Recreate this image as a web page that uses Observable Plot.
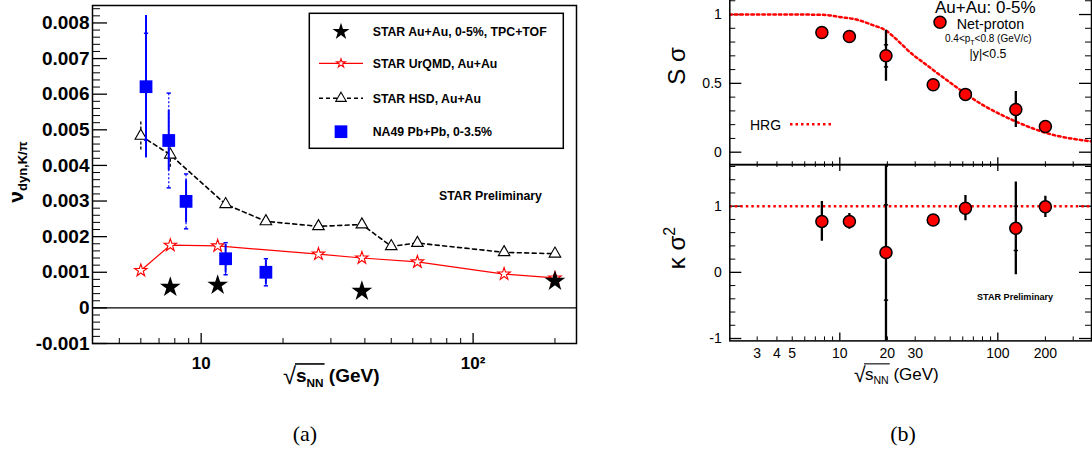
<!DOCTYPE html>
<html><head><meta charset="utf-8">
<script src="https://cdn.jsdelivr.net/npm/d3@7"></script>
<script src="https://cdn.jsdelivr.net/npm/@observablehq/plot@0.6"></script>
<style>
html,body{margin:0;padding:0;background:#fff}
body{width:1092px;height:452px;overflow:hidden;position:relative}
.abs{position:absolute}
svg{overflow:visible}
</style></head><body>
<div id="pa" class="abs" style="left:0px;top:0px"></div>
<div id="pb1" class="abs" style="left:640px;top:-27px"></div>
<div id="pb2" class="abs" style="left:640px;top:164.3px"></div>
<svg id="ov" class="abs" style="left:0;top:0" width="1092" height="452"></svg>
<script>
// ---------------- Panel (a) data ----------------
const starAuAuEnergy = [7.7, 11.5, 39, 200];
const starAuAuNu     = [0.00058, 0.00064, 0.00047, 0.00075];
const urqmdEnergy = [6.0, 7.7, 11.5, 27, 39, 62.4, 130, 200];
const urqmdNu     = [0.00105, 0.00176, 0.00174, 0.00151, 0.00140, 0.00129, 0.00095, 0.00084];
const hsdEnergy = [6.0, 7.7, 12.3, 17.3, 27, 39, 50, 62.4, 130, 200];
const hsdNu     = [0.00483, 0.00430, 0.00291, 0.00243, 0.00229, 0.00234, 0.00173, 0.00182, 0.00156, 0.00152];
const hsdErr    = [0.0004, 0.00035, 0, 0, 0, 0, 0, 0, 0, 0];
const na49Energy = [6.27, 7.6, 8.8, 12.3, 17.3];
const na49Nu     = [0.00621, 0.00470, 0.00299, 0.00138, 0.00100];
const na49Stat   = [0.0020, 0.00085, 0.00060, 0.00040, 0.00034];
const na49Sys    = [0.0015, 0.00133, 0.00077, 0.00045, 0.00038];
const aYTicks = [-0.001, 0, 0.001, 0.002, 0.003, 0.004, 0.005, 0.006, 0.007, 0.008];
const aXMajor = [10, 100];
const aXMinor = [5, 6, 7, 8, 9, 20, 30, 40, 50, 60, 70, 80, 90, 200];
const aLegendLabels = ["STAR Au+Au, 0-5%, TPC+TOF", "STAR UrQMD, Au+Au", "STAR HSD, Au+Au", "NA49 Pb+Pb, 0-3.5%"];

// ---------------- Panel (b) data ----------------
const bEnergy   = [7.7, 11.5, 19.6, 39, 62.4, 130, 200];
const sSigma    = [0.87, 0.84, 0.70, 0.49, 0.42, 0.31, 0.187];
const sSigmaErr = [0.02, 0.02, 0.185, 0.02, 0.02, 0.13, 0.02];
const sSigmaSys = [0, 0, 0.08, 0, 0, 0, 0];
const kSigma2    = [0.77, 0.77, 0.30, 0.79, 0.97, 0.665, 0.99];
const kSigma2Err = [0.30, 0.12, 2.0, 0.06, 0.19, 0.70, 0.16];
const kSigma2Sys = [0, 0, 0.72, 0, 0, 0.335, 0];
const hrgEnergy = [2, 5, 7, 8.3, 10, 12.9, 16, 19.8, 22, 29.4, 32.4, 48, 78, 126, 205, 393];
const hrgSSigma = [1.0, 1.0, 0.999, 0.996, 0.982, 0.962, 0.925, 0.88, 0.836, 0.703, 0.667, 0.52, 0.352, 0.23, 0.138, 0.078];
const hrgKappa = [1];
const bXMajor = [10, 100];
const bXMinor = [3, 4, 5, 6, 7, 8, 9, 20, 30, 40, 50, 60, 70, 80, 90, 200, 300];
const bXLabels = [3, 4, 5, 6, 7, 10, 20, 30, 100, 200];
const bTopYTicks = [0, 0.5, 1];
const bBotYTicks = [-1, 0, 1];

const FONT = "'Liberation Sans', Arial, Helvetica, sans-serif";
const RED = "#ff0000", BLUE = "#0000ff";
const capSymbol = {draw(ctx, size) { const w = Math.sqrt(size); ctx.moveTo(-w, 0); ctx.lineTo(w, 0); }};

// ---------------- Panel (a) ----------------
const A = {W: 600, H: 400, mL: 92, mR: 24, mT: 5, mB: 57};
const aFW = A.W - A.mL - A.mR, aFH = A.H - A.mT - A.mB;
const aYMinor = d3.range(-10, 85, 2).map(i => i / 10000).filter(v => !aYTicks.some(t => Math.abs(t - v) < 1e-9));
const star = starAuAuEnergy.map((e, i) => ({e, v: starAuAuNu[i]}));
const urqmd = urqmdEnergy.map((e, i) => ({e, v: urqmdNu[i]}));
const hsd = hsdEnergy.map((e, i) => ({e, v: hsdNu[i], err: hsdErr[i]}));
const na49 = na49Energy.map((e, i) => ({e, v: na49Nu[i], stat: na49Stat[i], sys: na49Sys[i]}));

const plotA = Plot.plot({
  width: A.W, height: A.H, marginLeft: A.mL, marginRight: A.mR, marginTop: A.mT, marginBottom: A.mB,
  style: {fontFamily: FONT, background: "transparent", color: "black", overflow: "visible"},
  x: {type: "log", domain: [3.985, 240]},
  y: {domain: [-0.001, 0.00849]},
  marks: [
    Plot.ruleY([0], {stroke: "black", strokeWidth: 1.2}),
    Plot.tickY(aYTicks, {y: d => d, insetRight: aFW - 15, strokeWidth: 1.3}),
    Plot.tickY(aYMinor, {y: d => d, insetRight: aFW - 8, strokeWidth: 1}),
    Plot.tickX(aXMajor, {x: d => d, insetTop: aFH - 10, strokeWidth: 1.3}),
    Plot.tickX(aXMinor, {x: d => d, insetTop: aFH - 5, strokeWidth: 1}),
    Plot.axisY({ticks: aYTicks, tickSize: 0, tickPadding: 3, label: null,
      tickFormat: d => d === 0 ? "0" : d.toFixed(3), fontSize: 19, fontWeight: "bold"}),
    Plot.axisX({ticks: aXMajor, tickSize: 0, tickPadding: 13, label: null,
      tickFormat: d => d === 100 ? "10²" : "10", fontSize: 17, fontWeight: "bold"}),
    // HSD
    Plot.ruleX(hsd.filter(d => d.err > 0), {x: "e", y1: d => d.v - d.err, y2: d => d.v + d.err, stroke: "black", strokeWidth: 1.3, strokeDasharray: "3,2"}),
    Plot.line(hsd, {x: "e", y: "v", stroke: "black", strokeWidth: 1.6, strokeDasharray: "4,3.5"}),
    Plot.dot(hsd, {x: "e", y: "v", symbol: "triangle", r: 4.3, fill: "white", stroke: "black", strokeWidth: 1.1}),
    // UrQMD
    Plot.line(urqmd, {x: "e", y: "v", stroke: RED, strokeWidth: 1.2}),
    Plot.dot(urqmd, {x: "e", y: "v", symbol: "star", r: 3.9, fill: "white", stroke: RED, strokeWidth: 1.1}),
    // NA49
    Plot.ruleX(na49, {x: "e", y1: d => d.v - d.sys, y2: d => d.v + d.sys, stroke: BLUE, strokeWidth: 1.2, strokeDasharray: "2,2"}),
    Plot.dot(na49, {x: "e", y: d => d.v + d.sys, symbol: capSymbol, r: 1.2, stroke: BLUE, strokeWidth: 1.5}),
    Plot.dot(na49, {x: "e", y: d => d.v - d.sys, symbol: capSymbol, r: 1.2, stroke: BLUE, strokeWidth: 1.5}),
    Plot.ruleX(na49, {x: "e", y1: d => d.v - d.stat, y2: d => d.v + d.stat, stroke: BLUE, strokeWidth: 2}),
    Plot.dot(na49, {x: "e", y: "v", symbol: "square", r: 7.2, fill: BLUE}),
    // STAR data
    Plot.dot(star, {x: "e", y: "v", symbol: "star", r: 6.5, fill: "black"}),
    Plot.frame({stroke: "black", strokeWidth: 1.5})
  ]
});
document.getElementById("pa").append(plotA);

// ---------------- Panel (b) ----------------
const B = {W: 452, mL: 89.3, mR: 1};
const bFW = B.W - B.mL - B.mR;
const bXDomain = [2.013, 391.6];
const netp = bEnergy.map((e, i) => ({e, s: sSigma[i], se: sSigmaErr[i], ss: sSigmaSys[i], k: kSigma2[i], ke: kSigma2Err[i], ks: kSigma2Sys[i]}));
const hrg = hrgEnergy.map((e, i) => ({e, v: hrgSSigma[i]}));

const b1FH = 191.3;
const b1YMinor = d3.range(0, 13).map(i => i / 10).filter(v => !bTopYTicks.some(t => Math.abs(t - v) < 1e-9));
const plotB1 = Plot.plot({
  width: B.W, height: b1FH + 2, marginLeft: B.mL, marginRight: B.mR, marginTop: 0, marginBottom: 2,
  style: {fontFamily: FONT, background: "transparent", color: "black", overflow: "visible"},
  x: {type: "log", domain: bXDomain, axis: null},
  y: {domain: [-0.0915, 1.298]},
  marks: [
    Plot.tickY(bTopYTicks, {y: d => d, insetRight: bFW - 12, strokeWidth: 1.3}),
    Plot.tickY(b1YMinor, {y: d => d, insetRight: bFW - 6, strokeWidth: 1}),
    Plot.tickY(bTopYTicks, {y: d => d, insetLeft: bFW - 12, strokeWidth: 1.3}),
    Plot.tickY(b1YMinor, {y: d => d, insetLeft: bFW - 6, strokeWidth: 1}),
    Plot.tickX(bXMajor, {x: d => d, insetTop: b1FH - 7, strokeWidth: 1.3}),
    Plot.tickX(bXMinor, {x: d => d, insetTop: b1FH - 3, strokeWidth: 1}),
    Plot.axisY({ticks: bTopYTicks, tickSize: 0, tickPadding: 8, label: null, tickFormat: d => String(d), fontSize: 14}),
    Plot.line(hrg, {x: "e", y: "v", stroke: RED, strokeWidth: 2.5, strokeDasharray: "2.5,3", curve: "monotone-x", clip: true}),
    Plot.ruleX(netp, {x: "e", y1: d => d.s - d.se, y2: d => d.s + d.se, stroke: "black", strokeWidth: 2.3, clip: true}),
    Plot.dot(netp.filter(d => d.ss > 0), {x: "e", y: d => d.s + d.ss, symbol: capSymbol, r: 1.2, stroke: "black", strokeWidth: 1.5}),
    Plot.dot(netp.filter(d => d.ss > 0), {x: "e", y: d => d.s - d.ss, symbol: capSymbol, r: 1.2, stroke: "black", strokeWidth: 1.5}),
    Plot.dot(netp, {x: "e", y: "s", r: 6, fill: RED, stroke: "black", strokeWidth: 1.5}),
    Plot.frame({stroke: "black", strokeWidth: 1.5})
  ]
});
document.getElementById("pb1").append(plotB1);

const b2FH = 176.4;
const b2YMinor = d3.range(-5, 9).map(i => i / 5).filter(v => !bBotYTicks.some(t => Math.abs(t - v) < 1e-9));
const plotB2 = Plot.plot({
  width: B.W, height: b2FH + 60, marginLeft: B.mL, marginRight: B.mR, marginTop: 0, marginBottom: 60,
  style: {fontFamily: FONT, background: "transparent", color: "black", overflow: "visible"},
  x: {type: "log", domain: bXDomain},
  y: {domain: [-1.036, 1.630]},
  marks: [
    Plot.tickY(bBotYTicks, {y: d => d, insetRight: bFW - 12, strokeWidth: 1.3}),
    Plot.tickY(b2YMinor, {y: d => d, insetRight: bFW - 6, strokeWidth: 1}),
    Plot.tickY(bBotYTicks, {y: d => d, insetLeft: bFW - 12, strokeWidth: 1.3}),
    Plot.tickY(b2YMinor, {y: d => d, insetLeft: bFW - 6, strokeWidth: 1}),
    Plot.tickX(bXMajor, {x: d => d, insetTop: b2FH - 8, strokeWidth: 1.3}),
    Plot.tickX(bXMinor, {x: d => d, insetTop: b2FH - 4, strokeWidth: 1}),
    Plot.tickX(bXMajor, {x: d => d, insetBottom: b2FH - 7, strokeWidth: 1.3}),
    Plot.tickX(bXMinor, {x: d => d, insetBottom: b2FH - 3, strokeWidth: 1}),
    Plot.axisY({ticks: bBotYTicks, tickSize: 0, tickPadding: 8, label: null, tickFormat: d => String(d), fontSize: 14}),
    Plot.axisX({ticks: bXLabels, tickSize: 0, tickPadding: 7, label: null, tickFormat: d => String(d), fontSize: 14}),
    Plot.ruleY(hrgKappa, {y: d => d, stroke: RED, strokeWidth: 2.5, strokeDasharray: "2.5,3"}),
    Plot.ruleX(netp, {x: "e", y1: d => d.k - d.ke, y2: d => d.k + d.ke, stroke: "black", strokeWidth: 2.3, clip: true}),
    Plot.dot(netp.filter(d => d.ks > 0), {x: "e", y: d => d.k + d.ks, symbol: capSymbol, r: 1.2, stroke: "black", strokeWidth: 1.5}),
    Plot.dot(netp.filter(d => d.ks > 0), {x: "e", y: d => d.k - d.ks, symbol: capSymbol, r: 1.2, stroke: "black", strokeWidth: 1.5}),
    Plot.dot(netp, {x: "e", y: "k", r: 6, fill: RED, stroke: "black", strokeWidth: 1.5}),
    Plot.frame({stroke: "black", strokeWidth: 1.5})
  ]
});
document.getElementById("pb2").append(plotB2);

// ---------------- Overlay texts / legend ----------------
const ov = d3.select("#ov").style("font-family", FONT);

// legend of panel (a)
const lg = ov.append("g");
lg.append("rect").attr("x", 309.3).attr("y", 13.3).attr("width", 254).attr("height", 135)
  .attr("fill", "white").attr("stroke", "black").attr("stroke-width", 1.5);
const rowY = [31.7, 63.3, 98.3, 131.7];
const symX = 341;
lg.append("path").attr("d", d3.symbol(d3.symbolStar, 90)()).attr("transform", `translate(${symX},${rowY[0]})`).attr("fill", "black");
lg.append("line").attr("x1", 319).attr("x2", 363).attr("y1", rowY[1]).attr("y2", rowY[1]).attr("stroke", RED).attr("stroke-width", 1.2);
lg.append("path").attr("d", d3.symbol(d3.symbolStar, 24)()).attr("transform", `translate(${symX},${rowY[1]})`).attr("fill", "white").attr("stroke", RED).attr("stroke-width", 1.1);
lg.append("line").attr("x1", 319).attr("x2", 363).attr("y1", rowY[2]).attr("y2", rowY[2]).attr("stroke", "black").attr("stroke-width", 1.5).attr("stroke-dasharray", "4,3");
lg.append("path").attr("d", d3.symbol(d3.symbolTriangle, 48)()).attr("transform", `translate(${symX},${rowY[2]})`).attr("fill", "white").attr("stroke", "black").attr("stroke-width", 1.1);
lg.append("path").attr("d", d3.symbol(d3.symbolSquare, 161)()).attr("transform", `translate(${symX},${rowY[3]})`).attr("fill", BLUE);
aLegendLabels.forEach((t, i) => {
  lg.append("text").attr("x", 372.7).attr("y", rowY[i]).attr("dy", "0.35em")
    .attr("font-size", 12.3).attr("font-weight", "bold").text(t);
});
ov.append("text").attr("x", 439).attr("y", 196).attr("dy", "0.35em").attr("font-size", 12.3).attr("font-weight", "bold").text("STAR Preliminary");

// y title (a)
const yt = ov.append("text").attr("transform", "translate(23,172) rotate(-90)").attr("text-anchor", "middle").attr("font-weight", "bold");
yt.append("tspan").attr("font-size", 21).text("ν");
yt.append("tspan").attr("font-size", 13).attr("dy", 4).text("dyn,K/π");

// sqrt(s_NN) titles
function sqrtTitle(x, yBase, fs, weight) {
  const g = ov.append("g");
  const rad = g.append("text").attr("x", x).attr("y", yBase + fs * 0.12).attr("font-size", fs * 1.25).attr("font-weight", "normal").text("√");
  const rb = rad.node().getBBox();
  const t = g.append("text").attr("x", rb.x + rb.width - 1).attr("y", yBase).attr("font-size", fs).attr("font-weight", weight);
  t.append("tspan").text("s");
  t.append("tspan").attr("font-size", fs * 0.62).attr("dy", fs * 0.25).text("NN");
  t.append("tspan").attr("dy", -fs * 0.25).text(" (GeV)");
  const n = t.node();
  const endNN = n.getEndPositionOfChar(2).x;
  g.append("line").attr("x1", rb.x + rb.width - 2).attr("x2", endNN + 1)
    .attr("y1", yBase - fs * 0.95).attr("y2", yBase - fs * 0.95).attr("stroke", "black").attr("stroke-width", fs > 18 ? 1.6 : 1.1);
}
sqrtTitle(283, 382, 19, "bold");
sqrtTitle(854, 380, 17, "normal");

// panel (b) annotations
ov.append("text").attr("x", 935).attr("y", 13).attr("font-size", 17).text("Au+Au: 0-5%");
ov.append("circle").attr("cx", 940).attr("cy", 22.3).attr("r", 6).attr("fill", RED).attr("stroke", "black").attr("stroke-width", 1.5);
ov.append("text").attr("x", 956.7).attr("y", 23.5).attr("dy", "0.35em").attr("font-size", 14.3).text("Net-proton");
const pt = ov.append("text").attr("x", 945).attr("y", 38.7).attr("dy", "0.35em").attr("font-size", 10);
pt.append("tspan").text("0.4<p");
pt.append("tspan").attr("font-size", 7).attr("dy", 2.5).text("T");
pt.append("tspan").attr("dy", -2.5).text("<0.8 (GeV/c)");
ov.append("text").attr("x", 988).attr("y", 54).attr("dy", "0.35em").attr("text-anchor", "middle").attr("font-size", 12.3).text("|y|<0.5");
ov.append("text").attr("x", 750).attr("y", 125).attr("dy", "0.35em").attr("font-size", 14).text("HRG");
ov.append("line").attr("x1", 790).attr("x2", 832).attr("y1", 124.3).attr("y2", 124.3).attr("stroke", RED).attr("stroke-width", 2.5).attr("stroke-dasharray", "2.5,3");
ov.append("text").attr("x", 977).attr("y", 297).attr("dy", "0.35em").attr("font-size", 9.1).attr("font-weight", "bold").text("STAR Preliminary");
ov.append("text").attr("transform", "translate(685,66) rotate(-90)").attr("text-anchor", "middle").attr("font-size", 24).text("S σ");
const ks = ov.append("text").attr("transform", "translate(685,248) rotate(-90)").attr("text-anchor", "middle").attr("font-size", 24);
ks.append("tspan").text("κ σ");
ks.append("tspan").attr("font-size", 16).attr("dy", -10).text("2");

// captions
ov.append("text").attr("x", 305).attr("y", 441).attr("text-anchor", "middle").attr("font-family", "'Liberation Serif', 'DejaVu Serif', serif").attr("font-size", 22).text("(a)");
ov.append("text").attr("x", 903).attr("y", 441).attr("text-anchor", "middle").attr("font-family", "'Liberation Serif', 'DejaVu Serif', serif").attr("font-size", 22).text("(b)");
</script></body></html>
